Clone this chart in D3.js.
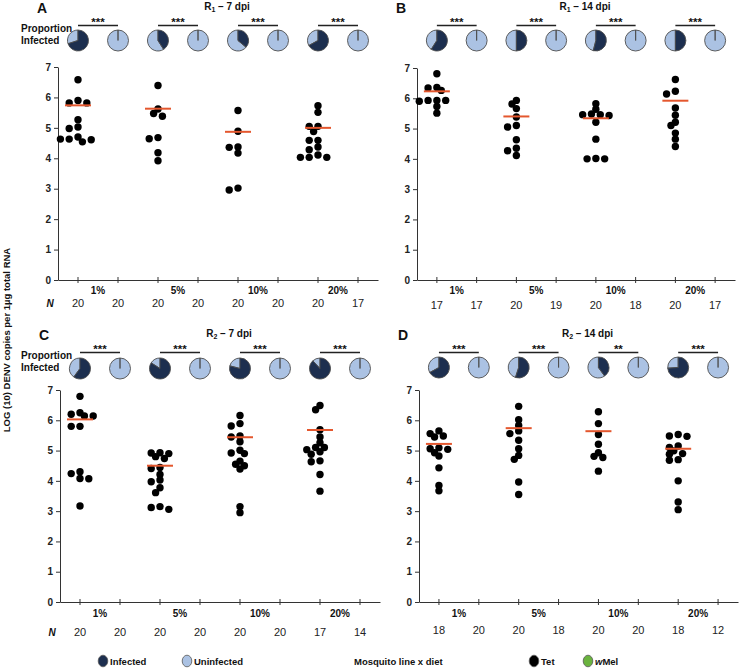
<!DOCTYPE html>
<html><head><meta charset="utf-8">
<script src="https://cdn.jsdelivr.net/npm/d3@7"></script>
<style>body{margin:0;background:#fff} text{font-family:"Liberation Sans",Arial,sans-serif}</style>
</head><body><svg id="c" width="739" height="669"></svg>
<script>
// ---------- DATA ----------
const groups = ["1%", "5%", "10%", "20%"];
const lines = ["Tet", "wMel"];
const yTicks = [0, 1, 2, 3, 4, 5, 6, 7];

// Panel A: R1 - 7 dpi (Tet values; wMel had no infected)
const valsA = [
  [6.58, 5.90, 5.82, 5.82, 5.27, 5.03, 4.98, 4.70, 4.63, 4.54, 4.61, 4.63],
  [6.39, 5.62, 5.47, 5.38, 4.68, 4.64, 4.18, 3.92],
  [5.57, 4.89, 4.37, 4.36, 4.17, 3.02, 2.96],
  [5.73, 5.51, 5.05, 5.05, 4.88, 4.59, 4.59, 4.37, 4.28, 4.11, 4.03, 4.03, 4.03]
];
const valsB = [
  [6.81, 6.36, 6.34, 6.26, 5.93, 5.93, 5.93, 5.90, 5.73, 5.51],
  [5.93, 5.81, 5.66, 5.38, 5.10, 5.05, 4.63, 4.35, 4.27, 4.11],
  [5.82, 5.64, 5.48, 5.46, 5.46, 5.43, 5.21, 4.65, 4.01, 4.00, 4.00],
  [6.62, 6.23, 6.14, 5.68, 5.44, 5.21, 5.10, 4.85, 4.65, 4.41]
];
const valsC = [
  [6.79, 6.25, 6.20, 6.14, 6.14, 5.80, 5.80, 4.30, 4.24, 4.08, 4.07, 3.17],
  [4.93, 4.92, 4.90, 4.80, 4.74, 4.44, 4.41, 4.21, 4.03, 3.97, 3.77, 3.61, 3.15, 3.12, 3.06],
  [6.16, 5.89, 5.81, 5.48, 5.45, 5.29, 5.01, 4.92, 4.90, 4.65, 4.55, 4.50, 4.39, 3.15, 2.95],
  [6.49, 6.35, 5.69, 5.45, 5.26, 5.10, 5.10, 5.03, 4.96, 4.88, 4.66, 4.63, 4.21, 3.66]
];
const valsD = [
  [5.65, 5.56, 5.48, 5.45, 5.09, 5.06, 5.04, 4.93, 4.82, 4.43, 3.85, 3.67],
  [6.46, 6.02, 5.83, 5.65, 5.56, 5.34, 5.06, 4.84, 4.71, 3.96, 3.55],
  [6.28, 5.89, 5.53, 5.21, 4.93, 4.81, 4.77, 4.32],
  [5.53, 5.48, 5.47, 5.15, 5.10, 4.99, 4.90, 4.88, 4.70, 4.68, 4.00, 3.30, 3.05]
];
const medA = [5.74, 5.63, 4.87, 5.00];
const medB = [6.23, 5.40, 5.34, 5.92];
const medC = [6.03, 4.50, 5.44, 5.68];
const medD = [5.22, 5.74, 5.64, 5.06];

// proportion infected: [Tet, wMel] per group
const propA = [[0.70, 0], [0.41, 0], [0.36, 0], [0.67, 0]];
const propB = [[0.59, 0], [0.50, 0], [0.54, 0], [0.50, 0]];
const propC = [[0.60, 0], [0.84, 0], [0.79, 0], [0.88, 0]];
const propD = [[0.67, 0], [0.55, 0], [0.40, 0], [0.74, 0]];

// N per slot (Tet, wMel for each group)
const nA = [20, 20, 20, 20, 20, 20, 20, 17];
const nB = [17, 17, 20, 19, 20, 18, 20, 17];
const nC = [20, 20, 20, 20, 20, 20, 17, 14];
const nD = [18, 20, 20, 18, 20, 20, 18, 12];

const sigA = ["***", "***", "***", "***"];
const sigB = ["***", "***", "***", "***"];
const sigC = ["***", "***", "***", "***"];
const sigD = ["***", "***", "**", "***"];

const panelLetters = ["A", "B", "C", "D"];
const panelReps = ["1", "1", "2", "2"];
const panelDpi = ["7", "14", "7", "14"];

const legendInfection = ["Infected", "Uninfected"];
const legendLine = ["Tet", "wMel"];

// ---------- LAYOUT ----------
const layout = [
  {x0: 58, x1: 378, yT: 67, yB: 280, top: 0, pieY: 40.5, gY: 294, nY: 307, showN: true},
  {x0: 417, x1: 735, yT: 68, yB: 280, top: 0, pieY: 40.5, gY: 294, nY: 309, showN: false},
  {x0: 60, x1: 380, yT: 390, yB: 602, top: 327, pieY: 368.5, gY: 617, nY: 636, showN: true},
  {x0: 419, x1: 738, yT: 390, yB: 602, top: 327, pieY: 367.5, gY: 617, nY: 634, showN: false}
];

const panels = [
  {vals: valsA, med: medA, prop: propA, n: nA, sig: sigA},
  {vals: valsB, med: medB, prop: propB, n: nB, sig: sigB},
  {vals: valsC, med: medC, prop: propC, n: nC, sig: sigC},
  {vals: valsD, med: medD, prop: propD, n: nD, sig: sigD}
];

const COL_INF = "#1d2f4f", COL_UN = "#abc2e3", COL_RED = "#e4572e", COL_GREEN = "#6ab33e";
const FONT = "'Liberation Sans', Arial, sans-serif";

const svg = d3.select("#c");
svg.append("rect").attr("width", 739).attr("height", 669).attr("fill", "#fff");

function swarm(values, y, step, minD) {
  const placed = [];
  return values.map(v => {
    const py = y(v);
    let off = 0;
    for (let k = 0; k < 60; k++) {
      const cand = k === 0 ? 0 : (k % 2 ? -1 : 1) * Math.ceil(k / 2) * step;
      const ok = placed.every(q => Math.hypot(q[0] - cand, q[1] - py) >= minD);
      if (ok) { off = cand; break; }
    }
    placed.push([off, py]);
    return {v, off};
  });
}

const arc = d3.arc().innerRadius(0).outerRadius(10.5);
const pie = d3.pie().sort(null).value(d => d);

panels.forEach((p, pi) => {
  const L = layout[pi];
  const g = svg.append("g");
  const slots = groups.flatMap(gr => lines.map(l => gr + "|" + l));
  const x = d3.scaleBand().domain(slots).range([L.x0, L.x1]);
  const cx = s => x(s) + x.bandwidth() / 2;
  const y = d3.scaleLinear().domain([0, 7]).range([L.yB, L.yT]);

  // y axis
  const ya = g.append("g").attr("transform", `translate(${L.x0},0)`)
    .call(d3.axisLeft(y).tickValues(yTicks).tickSize(4).tickSizeOuter(0).tickPadding(3).tickFormat(d3.format("d")));
  ya.attr("font-family", FONT).attr("font-size", 10).attr("font-weight", "bold");
  ya.selectAll("path,line").attr("stroke", "#333");
  ya.selectAll("text").attr("fill", "#222");

  // x axis
  const xa = g.append("g").attr("transform", `translate(0,${L.yB})`)
    .call(d3.axisBottom(x).tickSizeOuter(0).tickFormat(""));
  xa.selectAll(".tick line").attr("y1", -3).attr("y2", 3).attr("stroke", "#333");
  xa.select(".domain").attr("stroke", "#333");

  // panel letter and title
  g.append("text").attr("x", L.x0 - 21).attr("y", L.top + 13)
    .attr("font-size", 14).attr("font-weight", "bold").attr("fill", "#111").text(panelLetters[pi]);
  const t = g.append("text").attr("x", (L.x0 + L.x1) / 2 + 9).attr("y", L.top + 10)
    .attr("text-anchor", "middle").attr("font-size", 10).attr("font-weight", "bold").attr("fill", "#111");
  t.append("tspan").text("R");
  t.append("tspan").attr("font-size", 7).attr("dy", 2).text(panelReps[pi]);
  t.append("tspan").attr("dy", -2).text(" \u2013 " + panelDpi[pi] + " dpi");

  if (L.showN) {
    g.append("text").attr("x", 21).attr("y", L.top + 31.5).attr("font-size", 10).attr("font-weight", "bold").attr("fill", "#111").text("Proportion");
    g.append("text").attr("x", 21).attr("y", L.top + 44).attr("font-size", 10).attr("font-weight", "bold").attr("fill", "#111").text("Infected");
    g.append("text").attr("x", L.x0 - 8).attr("y", L.nY).attr("font-size", 10).attr("font-weight", "bold")
      .attr("font-style", "italic").attr("text-anchor", "middle").attr("fill", "#111").text("N");
  }

  groups.forEach((gr, gi) => {
    const sT = gr + "|Tet", sW = gr + "|wMel";
    // significance
    g.append("line").attr("x1", cx(sT)).attr("x2", cx(sW)).attr("y1", L.top + 25.5).attr("y2", L.top + 25.5)
      .attr("stroke", "#222").attr("stroke-width", 1.3);
    g.append("text").attr("x", (cx(sT) + cx(sW)) / 2).attr("y", L.top + 25.5)
      .attr("text-anchor", "middle").attr("font-size", 11.5).attr("font-weight", "bold").attr("fill", "#111").text(p.sig[gi]);

    // pies
    lines.forEach((ln, li) => {
      const s = gr + "|" + ln;
      const frac = p.prop[gi][li];
      const pg = g.append("g").attr("transform", `translate(${cx(s)},${L.pieY})`);
      const arcs = pie([frac, 1 - frac]);
      pg.selectAll("path").data([arcs[1], arcs[0]]).join("path")
        .attr("d", arc)
        .attr("fill", (d, i) => i === 0 ? COL_UN : COL_INF)
        .attr("stroke", "#4d4d4d").attr("stroke-width", 0.9);
    });

    // group label
    g.append("text").attr("x", (cx(sT) + cx(sW)) / 2).attr("y", L.gY)
      .attr("text-anchor", "middle").attr("font-size", 10).attr("font-weight", "bold").attr("fill", "#111").text(gr);

    // dots
    const sw = swarm(p.vals[gi], y, 4.4, 5.2);
    g.selectAll(null).data(sw).join("circle")
      .attr("cx", d => cx(sT) + d.off).attr("cy", d => y(d.v)).attr("r", 3.7).attr("fill", "#000");

    // median
    g.append("line").attr("x1", cx(sT) - 13).attr("x2", cx(sT) + 13)
      .attr("y1", y(p.med[gi])).attr("y2", y(p.med[gi]))
      .attr("stroke", COL_RED).attr("stroke-width", 2);
  });

  // N values
  g.selectAll(null).data(slots).join("text")
    .attr("x", s => cx(s)).attr("y", L.nY).attr("text-anchor", "middle")
    .attr("font-size", 11).attr("fill", "#222").text((s, i) => p.n[i]);
});

// y-axis label
svg.append("text").attr("transform", "translate(10,340) rotate(-90)")
  .attr("text-anchor", "middle").attr("font-size", 9.5).attr("font-weight", "bold").attr("fill", "#111")
  .text("LOG (10) DENV copies per 1\u00b5g total RNA");

// legend
const LY = 661;
const legItems = [
  {x: 103, fill: COL_INF, label: legendInfection[0]},
  {x: 187, fill: COL_UN, label: legendInfection[1]},
  {x: 534, fill: "#000", label: legendLine[0]},
  {x: 588, fill: COL_GREEN, label: legendLine[1]}
];
legItems.forEach(it => {
  svg.append("ellipse").attr("cx", it.x).attr("cy", LY).attr("rx", 4.8).attr("ry", 5.8)
    .attr("fill", it.fill).attr("stroke", "#555").attr("stroke-width", 0.8);
  const tx = svg.append("text").attr("x", it.x + 7).attr("y", LY + 3.5).attr("font-size", 9.5)
    .attr("font-weight", "bold").attr("fill", "#111");
  if (it.label === "wMel") {
    tx.append("tspan").attr("font-style", "italic").text("w");
    tx.append("tspan").text("Mel");
  } else tx.text(it.label);
});
svg.append("text").attr("x", 354).attr("y", LY + 3.5).attr("font-size", 9.5).attr("font-weight", "bold")
  .attr("fill", "#111").text("Mosquito line x diet");
</script></body></html>
